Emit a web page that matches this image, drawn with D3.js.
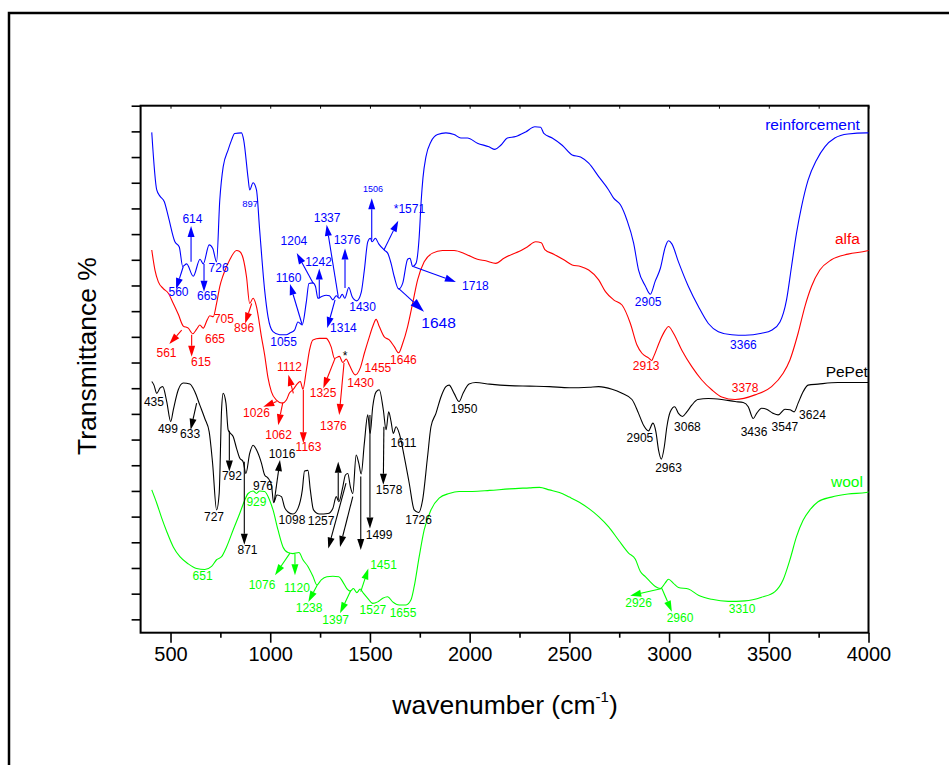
<!DOCTYPE html>
<html>
<head>
<meta charset="utf-8">
<script src="https://cdn.jsdelivr.net/npm/d3@7"></script>
<style>
  body { margin: 0; background: #fff; }
  svg { display: block; }
  text { font-family: Arial, "Liberation Sans", Helvetica, sans-serif; }
</style>
</head>
<body>
<svg id="chart" width="949" height="765"></svg>
<script>
// FTIR spectra (wavenumber in cm-1, transmittance in offset % units)
const wnReinforcement = [406,431,447,469,489,522,544,561,581,614,648,664,694,712,731,747,764,789,806,822,856,867,889,897,914,931,947,972,989,1014,1047,1081,1097,1122,1139,1160,1181,1194,1214,1227,1239,1256,1281,1297,1314,1331,1347,1361,1374,1394,1411,1434,1456,1472,1489,1502,1511,1527,1544,1572,1589,1606,1622,1644,1664,1689,1701,1714,1731,1747,1757,1766,1781,1806,1839,1881,1922,1956,1989,2039,2097,2127,2156,2189,2231,2281,2327,2356,2372,2414,2464,2514,2556,2597,2647,2697,2722,2756,2789,2822,2847,2881,2906,2931,2956,2981,2997,3014,3047,3097,3147,3197,3247,3314,3381,3464,3514,3556,3589,3614,3639,3664,3697,3739,3781,3831,3897,3989,4000];
const tReinforcement = [94.8,83.6,82.4,81.3,78.4,73.5,72.5,68.7,69.2,66.8,70.1,69.2,72.9,72.2,69.6,81.6,88.1,91.4,93.3,94.6,94.7,93.3,85.9,83.6,85.0,83.6,75.8,64.1,58.9,56.0,55.4,55.4,55.7,56.3,57.9,57.3,61.8,65.4,65.5,64.8,62.5,62.8,63.1,63.0,62.2,63.0,62.5,63.3,62.5,64.6,62.8,62.0,63.6,68.0,73.5,74.2,73.5,74.2,73.1,71.9,71.3,69.3,66.7,64.3,65.4,70.1,70.3,68.7,69.3,74.5,81.5,86.0,90.1,93.0,94.4,94.7,94.4,93.7,93.7,92.7,92.0,91.5,92.3,93.7,94.0,94.9,95.9,95.8,94.6,93.7,92.3,90.4,90.0,88.8,86.2,83.6,82.0,80.7,77.7,73.3,68.0,64.9,63.3,65.9,68.3,72.5,73.7,73.1,69.6,64.8,60.9,57.6,56.0,55.4,55.3,55.7,56.3,57.9,62.2,68.7,75.2,80.3,85.5,89.4,92.0,93.7,94.5,94.7,94.7];

const wnAlfa = [406,422,439,464,489,514,539,564,589,611,631,647,664,684,697,714,731,747,764,797,831,847,864,881,897,914,931,956,972,989,1006,1031,1061,1081,1097,1114,1139,1151,1164,1181,1197,1214,1247,1281,1289,1306,1322,1347,1364,1381,1397,1427,1451,1472,1497,1514,1531,1547,1572,1597,1622,1644,1664,1689,1714,1739,1772,1814,1864,1922,1981,2039,2081,2131,2172,2214,2247,2289,2331,2359,2377,2422,2472,2514,2556,2597,2647,2681,2722,2764,2806,2839,2864,2897,2913,2922,2956,2981,2997,3022,3064,3114,3164,3214,3264,3331,3431,3514,3572,3606,3647,3681,3714,3756,3814,3897,3989,4000];
const tAlfa = [71.9,68.0,65.7,64.4,63.5,61.5,59.4,57.1,56.7,55.6,56.5,57.3,56.7,58.3,59.1,58.9,61.5,64.8,67.0,70.0,71.8,71.6,70.3,66.7,61.5,62.5,60.9,55.0,51.5,47.0,44.3,42.7,42.1,42.7,44.1,44.7,46.0,46.3,44.8,48.5,52.4,54.4,54.7,54.7,54.4,53.0,50.8,51.2,50.0,50.7,49.5,47.6,48.9,51.8,55.0,57.0,58.4,57.0,55.0,54.4,53.1,51.9,53.7,57.0,61.5,66.1,69.6,71.3,71.8,71.8,71.1,70.1,69.8,69.3,70.3,71.1,71.6,72.5,73.5,73.3,72.0,71.1,70.0,69.0,68.7,68.0,66.1,63.8,62.2,61.2,57.6,53.4,51.8,50.9,50.4,51.1,54.4,56.3,57.0,55.7,52.4,49.2,46.6,44.7,43.3,42.8,43.7,45.3,47.9,50.5,55.7,60.9,64.8,68.0,70.0,71.1,71.7,71.8];

const wnPePet = [406,417,431,447,461,481,501,514,539,564,597,622,647,672,694,711,731,744,756,764,778,789,801,814,831,847,864,878,897,914,931,956,972,989,1006,1017,1034,1056,1072,1089,1114,1139,1161,1172,1189,1201,1217,1247,1289,1314,1331,1344,1364,1377,1389,1402,1414,1431,1444,1456,1472,1489,1501,1514,1531,1547,1567,1581,1594,1606,1617,1631,1647,1672,1697,1722,1744,1764,1789,1806,1831,1856,1881,1897,1922,1947,1967,1997,2031,2100,2200,2300,2400,2500,2600,2647,2714,2764,2814,2847,2872,2897,2919,2934,2947,2961,2976,2989,3006,3028,3047,3067,3089,3114,3144,3197,3264,3331,3372,3397,3422,3439,3464,3489,3522,3547,3581,3606,3627,3647,3672,3697,3747,3847,4000];
const tPePet = [46.3,45.6,44.0,45.0,45.3,42.4,38.5,40.8,44.7,46.0,45.8,44.3,41.7,39.1,36.5,30.4,21.3,24.5,40.8,44.0,42.1,36.9,36.2,35.6,33.3,31.4,30.7,28.4,32.3,33.9,33.0,30.4,28.1,27.5,26.2,22.7,24.2,23.9,21.8,20.9,20.5,21.6,25.2,28.9,29.0,25.2,21.3,20.5,20.6,21.6,23.9,22.9,25.8,28.1,28.4,25.8,24.5,32.0,30.4,28.3,34.3,39.8,36.2,41.4,44.3,44.7,40.8,36.9,40.4,38.5,36.2,37.5,36.2,31.7,26.5,21.3,20.8,23.2,31.7,37.5,40.1,43.3,45.3,45.6,44.0,42.4,44.0,45.8,46.1,45.8,45.5,45.4,45.3,45.1,45.2,45.3,44.8,44.0,42.8,40.1,37.8,36.7,38.2,36.5,33.0,31.2,33.6,37.5,40.4,41.4,40.1,39.5,40.4,41.7,42.8,43.0,42.8,42.4,42.2,41.4,39.1,40.1,41.1,40.9,40.1,39.8,40.9,40.8,40.4,42.1,44.3,45.6,45.8,46.1,46.1];

const wnWool = [406,431,456,481,514,547,589,631,672,706,731,756,781,814,847,872,889,914,931,947,972,997,1014,1039,1064,1089,1114,1144,1164,1189,1214,1234,1256,1284,1314,1344,1364,1384,1401,1417,1434,1451,1467,1489,1514,1539,1564,1589,1614,1647,1681,1706,1722,1747,1772,1806,1847,1897,1947,2014,2100,2200,2300,2350,2400,2450,2500,2550,2600,2647,2697,2747,2797,2831,2856,2881,2906,2931,2956,2981,2997,3022,3047,3097,3147,3214,3297,3381,3464,3531,3572,3606,3639,3672,3706,3747,3814,3897,3989,4000];
const tWool = [25.2,22.6,19.7,17.1,14.1,12.2,10.8,9.9,9.7,10.3,11.6,12.2,14.1,17.4,20.6,23.2,24.5,25.0,24.5,25.0,24.9,23.2,21.3,17.4,14.1,13.0,12.8,13.0,11.6,10.3,8.4,6.7,7.7,8.3,8.4,8.3,7.3,6.0,5.5,6.0,5.2,5.9,5.1,4.1,3.1,3.4,4.1,4.4,3.4,2.8,2.8,3.8,6.4,12.2,17.4,21.3,23.6,24.5,24.9,24.9,25.1,25.4,25.6,25.7,25.2,24.7,23.8,22.8,21.5,20.0,18.0,15.4,12.9,11.7,9.3,8.3,7.3,6.4,6.0,7.1,7.8,7.0,6.2,5.9,4.7,3.9,3.5,3.6,4.3,5.4,7.7,11.6,16.1,19.3,21.3,22.9,23.8,24.4,24.7,24.8];

const seriesNames = ["reinforcement", "alfa", "PePet", "wool"];
const seriesColors = ["#0000ff", "#ff0000", "#000000", "#00ff00"];
const xTicksMajor = [500,1000,1500,2000,2500,3000,3500,4000];
const xTicksMinor = [750,1250,1750,2250,2750,3250,3750];

// Band assignments: [label, label wn, label t, arrow from wn, t, arrow to wn, t]
const bandsReinforcement = [
  ["614", 610, 77.2, 603, 69.6, 603, 76.6],
  ["560", 540, 62.9, 564, 68.7, 528, 64.3],
  ["665", 683, 62.2, 668, 69.2, 668, 63.8],
  ["726", 741, 67.6],
  ["1055", 1067, 53.2],
  ["1160", 1092, 65.7, 1159, 57.5, 1099, 65.3],
  ["1204", 1119, 72.9, 1216, 65.4, 1133, 71.3],
  ["1242", 1242, 68.8, 1246, 62.5, 1246, 68.3],
  ["1337", 1285, 77.4, 1341, 62.8, 1283, 76.8],
  ["1376", 1385, 73.1, 1375, 64.5, 1375, 72.2],
  ["1314", 1367, 55.9, 1325, 62.2, 1286, 56.7],
  ["1430", 1463, 60.0],
  ["*1571", 1698, 79.1, 1570, 71.9, 1642, 77.6],
  ["1718", 2029, 64.1, 1717, 68.7, 1931, 65.7],
  ["2905", 2895, 61.0],
  ["3366", 3373, 52.6]
];
const bandsAlfa = [
  ["561", 480, 51.1, 556, 56.3, 494, 53.6],
  ["615", 653, 49.3, 606, 55.4, 606, 51.1],
  ["665", 723, 53.8],
  ["705", 768, 57.7],
  ["896", 869, 55.9, 907, 61.5, 874, 57.6],
  ["1026", 931, 39.4, 1032, 42.4, 965, 41.4],
  ["1062", 1042, 35.1, 1063, 42.2, 1040, 37.8],
  ["1112", 1097, 48.4, 1116, 44.0, 1091, 47.6],
  ["1163", 1192, 32.7, 1166, 44.7, 1166, 34.3],
  ["1325", 1265, 43.3, 1325, 50.8, 1266, 45.0],
  ["1376", 1317, 36.9, 1370, 49.9, 1346, 39.8],
  ["1430", 1453, 45.2],
  ["1455", 1540, 48.2],
  ["1646", 1668, 49.7],
  ["2913", 2885, 48.5],
  ["3378", 3381, 44.3]
];
const bandsPePet = [
  ["435", 417, 41.5],
  ["499", 487, 36.3],
  ["633", 598, 35.3, 631, 42.1, 601, 36.9],
  ["727", 718, 19.2],
  ["792", 808, 27.1, 795, 36.7, 795, 28.8],
  ["976", 964, 25.2],
  ["871", 886, 12.7, 870, 30.7, 870, 14.5],
  ["1016", 1059, 31.4, 1020, 22.9, 1049, 31.0],
  ["1098", 1109, 18.6],
  ["1257", 1255, 18.4],
  ["", 0, 0, 1341, 23.2, 1341, 30.7],
  ["", 0, 0, 1380, 26.5, 1291, 13.8],
  ["", 0, 0, 1414, 23.9, 1350, 14.1],
  ["", 0, 0, 1454, 27.8, 1454, 13.5],
  ["1499", 1546, 15.6, 1500, 39.8, 1500, 17.7],
  ["1578", 1596, 24.4, 1570, 37.5, 1567, 26.2],
  ["1611", 1668, 33.6],
  ["1726", 1744, 18.6],
  ["1950", 1972, 40.2],
  ["2905", 2854, 34.5],
  ["2963", 2997, 28.7],
  ["3068", 3092, 36.7],
  ["3436", 3426, 35.7],
  ["3547", 3581, 36.7],
  ["3624", 3719, 39.0]
];
const bandsWool = [
  ["651", 661, 7.7],
  ["929", 931, 22.1],
  ["1076", 959, 6.0, 1099, 12.9, 1024, 8.6],
  ["1120", 1134, 5.3, 1124, 12.7, 1124, 8.6],
  ["1238", 1195, 1.4, 1236, 6.7, 1191, 3.4],
  ["1397", 1328, -0.9, 1404, 5.6, 1350, 1.2],
  ["1451", 1568, 9.8, 1454, 5.4, 1492, 9.9],
  ["1527", 1515, 1.0],
  ["1655", 1666, 0.5],
  ["2926", 2847, 2.4, 2964, 6.0, 2805, 4.6],
  ["2960", 3055, -0.5, 2964, 6.0, 3014, 1.5],
  ["3310", 3366, 1.2]
];

const svg = d3.select("#chart");
const x = d3.scaleLinear().domain([350, 4000]).range([140.6, 868.5]);
const y = d3.scaleLinear().domain([-2.6, 100]).range([632.7, 105.7]);

// outer frame
svg.append("rect").attr("x", 9).attr("y", 13).attr("width", 1000).attr("height", 800)
  .attr("fill", "none").attr("stroke", "#000").attr("stroke-width", 2.5);

// axes
const bottom = svg.append("g").attr("transform", `translate(0,${y.range()[0]})`)
  .call(d3.axisBottom(x).tickValues(xTicksMajor).tickSize(10).tickSizeOuter(0).tickPadding(4).tickFormat(d3.format("d")));
bottom.call(g => g.select(".domain").remove());
bottom.selectAll("line").attr("stroke-width", 1.6);
bottom.selectAll("text").attr("font-size", 20).attr("fill", "#000")
  .style("font-family", 'Arial, "Liberation Sans", sans-serif');
svg.append("g").attr("transform", `translate(0,${y.range()[0]})`)
  .call(d3.axisBottom(x).tickValues(xTicksMinor).tickSize(5).tickSizeOuter(0).tickFormat(""))
  .call(g => g.select(".domain").remove())
  .selectAll("line").attr("stroke-width", 1.6);
svg.append("g").attr("transform", `translate(0,${y.range()[1]})`)
  .call(d3.axisTop(x).tickValues(xTicksMajor.concat(xTicksMinor)).tickSize(-3).tickSizeOuter(0).tickFormat(""))
  .call(g => g.select(".domain").remove())
  .selectAll("line").attr("stroke-width", 1);
svg.append("g").attr("transform", `translate(${x.range()[0]},0)`)
  .call(d3.axisLeft(y).tickValues(d3.range(0, 101, 5)).tickSize(9).tickSizeOuter(0).tickFormat(""))
  .call(g => g.select(".domain").remove())
  .selectAll("line").attr("stroke-width", 1.6);

svg.append("rect")
  .attr("x", x.range()[0]).attr("y", y.range()[1])
  .attr("width", x.range()[1] - x.range()[0]).attr("height", y.range()[0] - y.range()[1])
  .attr("fill", "none").attr("stroke", "#000").attr("stroke-width", 2);

// axis titles
const xt = svg.append("text").attr("x", 505).attr("y", 714).attr("text-anchor", "middle")
  .attr("font-size", 26.5).attr("fill", "#000");
xt.append("tspan").text("wavenumber (cm");
xt.append("tspan").text("-1").attr("font-size", 15).attr("dy", -12);
xt.append("tspan").text(")").attr("dy", 12);
svg.append("text").attr("transform", "translate(96,356) rotate(-90)")
  .attr("text-anchor", "middle").attr("font-size", 26.5).attr("fill", "#000")
  .text("Transmittance %");

// spectra
const line = d3.line().x(d => x(d[0])).y(d => y(d[1])).curve(d3.curveMonotoneX);
const spectra = [
  [wnReinforcement, tReinforcement],
  [wnAlfa, tAlfa],
  [wnPePet, tPePet],
  [wnWool, tWool]
];
spectra.forEach(([wn, t], i) => {
  svg.append("path").datum(d3.zip(wn, t)).attr("d", line)
    .attr("fill", "none").attr("stroke", seriesColors[i]).attr("stroke-width", 1.1);
});

// series names
const nameAnchors = [[3957, 95.3], [3957, 73.1], [3997, 47.2], [3972, 25.8]];
seriesNames.forEach((n, i) => {
  svg.append("text").attr("x", x(nameAnchors[i][0])).attr("y", y(nameAnchors[i][1]))
    .attr("text-anchor", "end").attr("font-size", 15.5).attr("fill", seriesColors[i]).text(n);
});

function arrow(x1, y1, x2, y2, color, len, wid) {
  const dx = x2 - x1, dy = y2 - y1, L = Math.hypot(dx, dy);
  const ux = dx / L, uy = dy / L;
  const bx = x2 - ux * len, by = y2 - uy * len;
  svg.append("line").attr("x1", x1).attr("y1", y1).attr("x2", bx).attr("y2", by)
    .attr("stroke", color).attr("stroke-width", 1.1);
  svg.append("path")
    .attr("d", `M${x2},${y2}L${bx - uy * wid / 2},${by + ux * wid / 2}L${bx + uy * wid / 2},${by - ux * wid / 2}Z`)
    .attr("fill", color);
}

function drawBands(list, color) {
  list.forEach(b => {
    if (b[0]) {
      svg.append("text").attr("x", x(b[1])).attr("y", y(b[2])).attr("text-anchor", "middle")
        .attr("font-size", 12).attr("fill", color).text(b[0]);
    }
    if (b.length > 3) arrow(x(b[3]), y(b[4]), x(b[5]), y(b[6]), color, 11, 7);
  });
}
drawBands(bandsReinforcement, seriesColors[0]);
drawBands(bandsAlfa, seriesColors[1]);
drawBands(bandsPePet, seriesColors[2]);
drawBands(bandsWool, seriesColors[3]);

// smaller / larger reinforcement labels
svg.append("text").attr("x", x(899)).attr("y", y(80.3)).attr("text-anchor", "middle")
  .attr("font-size", 9.5).attr("fill", seriesColors[0]).text("897");
svg.append("text").attr("x", x(1515)).attr("y", y(83.2)).attr("text-anchor", "middle")
  .attr("font-size", 9).attr("fill", seriesColors[0]).text("1506");
arrow(x(1509), y(73.9), x(1509), y(82.0), seriesColors[0], 11, 7);
svg.append("text").attr("x", x(1844)).attr("y", y(56.7)).attr("text-anchor", "middle")
  .attr("font-size", 15.5).attr("fill", seriesColors[0]).text("1648");
arrow(x(1642), y(64.5), x(1771), y(59.9), seriesColors[0], 14, 9);

// marker on the alfa band near 1376
svg.append("text").attr("x", x(1375)).attr("y", y(50.5)).attr("text-anchor", "middle")
  .attr("font-size", 12).attr("fill", "#000").text("*");
</script>
</body>
</html>
